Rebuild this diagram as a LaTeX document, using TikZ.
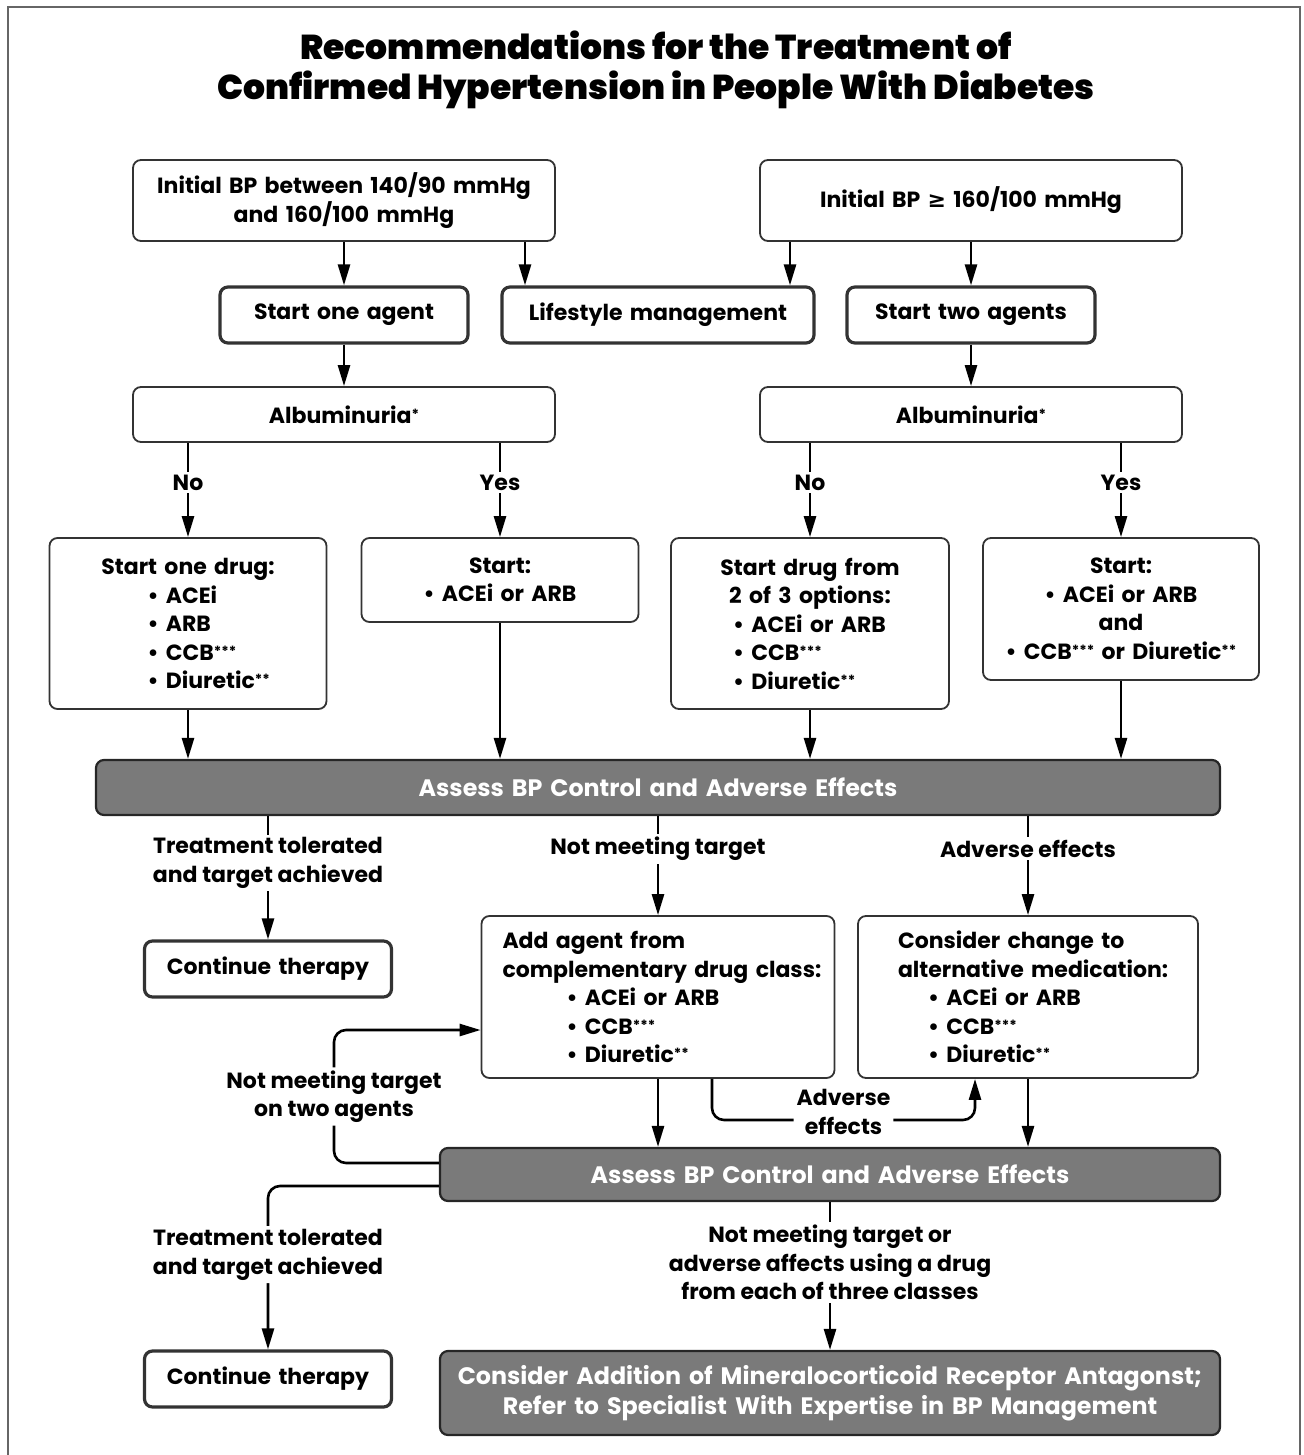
\documentclass[tikz,border=0pt]{standalone}
\usepackage{fontspec}
\setmainfont{Poppins}
\newfontfamily\titlefont{Poppins Black}
\newfontfamily\symfont{DejaVu Sans}
\usetikzlibrary{arrows.meta}
\newcommand{\rowat}[2]{\makebox[\linewidth][l]{\hspace*{#1pt}#2}}
\newcommand{\stars}[1]{\raisebox{4pt}{\fontsize{14}{14}\selectfont#1}}

\tikzset{
  txt/.style={font=\bfseries\fontsize{22}{28.5}\selectfont},
  box/.style={txt, draw=black!80, line width=1.8pt, rounded corners=8pt, fill=white, align=center, inner xsep=0pt, inner ysep=0pt},
  heavy/.style={box, line width=3.2pt},
  bar/.style={box, draw=black!85, line width=2.2pt, fill=black!52, text=white, font=\bfseries\fontsize{23.8}{30}\selectfont},
  lbl/.style={txt, fill=white, align=center, inner sep=3pt},
  arr/.style={-{Triangle[length=21pt,width=12pt]}, line width=2.6pt},
}

\begin{document}
\begin{tikzpicture}[x=1pt,y=-1pt]
  \useasboundingbox (0,0) rectangle (1303,1455);
  \draw[black!60, line width=2.5pt] (8,1455) -- (8,7) -- (1300,7) -- (1300,1455);

  \node[font=\titlefont\fontsize{34.5}{40}\selectfont, align=center] (0) at (656,70) {Recommendations for the Treatment of\\Confirmed Hypertension in People With Diabetes};

  \node[box, text width=422pt, minimum height=81pt] (1) at (344,200.5) {Initial BP between 140/90 mmHg\\and 160/100 mmHg};
  \node[box, text width=422pt, minimum height=81pt] (2) at (971,200.5) {Initial BP {\symfont\bfseries ≥} 160/100 mmHg};
  \node[heavy, text width=248pt, minimum height=56pt] (3) at (344,315) {Start one agent};
  \node[heavy, text width=312pt, minimum height=56pt] (4) at (658,315) {Lifestyle management};
  \node[heavy, text width=248pt, minimum height=56pt] (5) at (971,315) {Start two agents};
  \node[box, text width=422pt, minimum height=55pt] (6) at (344,414.5) {Albuminuria\stars{*}};
  \node[box, text width=422pt, minimum height=55pt] (7) at (971,414.5) {Albuminuria\stars{*}};

  \node[box, text width=277pt, minimum height=171pt] (8) at (188,623.5) {Start one drug:\\\rowat{98}{• ACEi}\\\rowat{98}{• ARB}\\\rowat{98}{• CCB\stars{***}}\\\rowat{98}{• Diuretic\stars{**}}};
  \node[box, text width=277pt, minimum height=84pt] (9) at (500,580) {Start:\\• ACEi or ARB};
  \node[box, text width=278pt, minimum height=171pt] (10) at (810,623.5) {Start drug from\\2 of 3 options:\\\rowat{62}{• ACEi or ARB}\\\rowat{62}{• CCB\stars{***}}\\\rowat{62}{• Diuretic\stars{**}}};
  \node[box, text width=276pt, minimum height=142pt] (11) at (1121,609) {Start:\\• ACEi or ARB\\and\\• CCB\stars{***} or Diuretic\stars{**}};

  \node[bar, text width=1124pt, minimum height=55pt] (12) at (658,787.5) {Assess BP Control and Adverse Effects};
  \node[heavy, text width=247pt, minimum height=56pt] (13) at (268,969) {Continue therapy};
  \node[box, text width=353pt, minimum height=162pt] (14) at (658,997) {\rowat{21}{Add agent from}\\\rowat{21}{complementary drug class:}\\\rowat{85}{• ACEi or ARB}\\\rowat{85}{• CCB\stars{***}}\\\rowat{85}{• Diuretic\stars{**}}};
  \node[box, text width=340pt, minimum height=162pt] (15) at (1028,997) {\rowat{40}{Consider change to}\\\rowat{40}{alternative medication:}\\\rowat{70}{• ACEi or ARB}\\\rowat{70}{• CCB\stars{***}}\\\rowat{70}{• Diuretic\stars{**}}};
  \node[bar, text width=780pt, minimum height=53pt] (16) at (830,1174.5) {Assess BP Control and Adverse Effects};
  \node[heavy, text width=247pt, minimum height=56pt] (17) at (268,1379) {Continue therapy};
  \node[bar, text width=780pt, minimum height=84pt] (18) at (830,1393) {Consider Addition of Mineralocorticoid Receptor Antagonst;\\Refer to Specialist With Expertise in BP Management};

  \coordinate (a) at (525,0);
  \coordinate (b) at (790,0);
  \coordinate (c) at (712,1120);
  \coordinate (d) at (975,1120);
  \coordinate (e) at (334,1030);

  \draw[arr] (1) -- (3);
  \draw[arr] (1.south -| a) -- (4.north -| a);
  \draw[arr] (2.south -| b) -- (4.north -| b);
  \draw[arr] (2) -- (5);
  \draw[arr] (3) -- (6);
  \draw[arr] (5) -- (7);
  \draw[arr] (6.south -| 8) -- node[lbl, pos=0.42] {No} (8.north);
  \draw[arr] (6.south -| 9) -- node[lbl, pos=0.42] {Yes} (9.north);
  \draw[arr] (7.south -| 10) -- node[lbl, pos=0.42] {No} (10.north);
  \draw[arr] (7.south -| 11) -- node[lbl, pos=0.42] {Yes} (11.north);
  \draw[arr] (8.south) -- (8.south |- 12.north);
  \draw[arr] (9.south) -- (9.south |- 12.north);
  \draw[arr] (10.south) -- (10.south |- 12.north);
  \draw[arr] (11.south) -- (11.south |- 12.north);

  \draw[arr] (12.south -| 13) -- node[lbl, pos=0.38] {Treatment tolerated\\and target achieved} (13.north);
  \draw[arr] (12.south -| 14) -- node[lbl, pos=0.33] {Not meeting target} (14.north);
  \draw[arr] (12.south -| 15) -- node[lbl, pos=0.33] {Adverse effects} (15.north);
  \draw[arr] (14.south) -- (14.south |- 16.north);
  \draw[arr] (15.south) -- (15.south |- 16.north);
  \draw[arr, rounded corners=12pt] (14.south -| c) -- (c) -- node[lbl, yshift=8pt] {Adverse\\effects} (d) -- (15.south -| d);
  \draw[arr, rounded corners=12pt] ([yshift=11.5pt]16.west) -| node[lbl, pos=0.75] {Not meeting target\\on two agents} (e) -- (14.west |- e);
  \draw[arr, rounded corners=12pt] ([yshift=-11.5pt]16.west) -| node[lbl, pos=0.71] {Treatment tolerated\\and target achieved} (17.north);
  \draw[arr] (16.south) -- node[lbl, pos=0.41] {Not meeting target or\\adverse affects using a drug\\from each of three classes} (18.north);
\end{tikzpicture}
\end{document}
